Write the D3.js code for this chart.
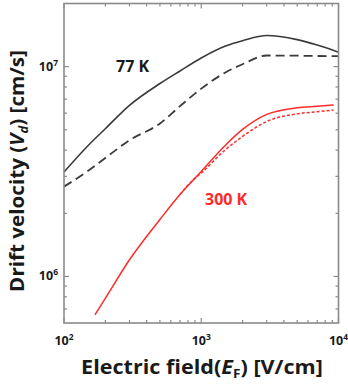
<!DOCTYPE html>
<html><head><meta charset="utf-8">
<script src="https://cdn.jsdelivr.net/npm/d3@7"></script>
<style>
html,body{margin:0;padding:0;background:#fff;}
svg{display:block;font-family:"Open Sans","Noto Sans",sans-serif;}
</style></head>
<body><div id="chart"></div>
<script>
// Data (electric field in V/cm, drift velocity in cm/s)
const field77 = [100, 150, 200, 300, 500, 700, 1000, 1500, 2000, 3000, 5000, 7000, 10000];
const solid77 = [3.145e6, 4.21e6, 5.06e6, 6.54e6, 8.31e6, 9.54e6, 1.10e7, 1.254e7, 1.330e7, 1.408e7, 1.345e7, 1.268e7, 1.172e7];
const dashed77 = [2.68e6, 3.19e6, 3.67e6, 4.46e6, 5.36e6, 6.48e6, 7.86e6, 9.38e6, 1.027e7, 1.13e7, 1.128e7, 1.124e7, 1.122e7];
const field300 = [168, 200, 300, 500, 700, 1000, 1500, 2000, 3000, 5000, 7000, 9200];
const solid300 = [6.56e5, 7.86e5, 1.201e6, 1.87e6, 2.46e6, 3.165e6, 4.22e6, 5.02e6, 5.92e6, 6.37e6, 6.47e6, 6.56e6];
const field300b = [700, 870, 1000, 1500, 2000, 3000, 5000, 7000, 9200];
const dotted300 = [2.46e6, 2.88e6, 3.11e6, 4.02e6, 4.65e6, 5.48e6, 5.96e6, 6.10e6, 6.21e6];
const xTickExps = [2, 3, 4];
const yTickExps = [6, 7];
const labels = ["77 K", "300 K"];

const W = 348, H = 386;
const m = {left: 64, right: 348 - 338.5, top: 3.5, bottom: 386 - 323};
const svg = d3.select("#chart").append("svg").attr("width", W).attr("height", H);
const x = d3.scaleLog().domain([100, 10000]).range([m.left, W - m.right]);
const y = d3.scaleLog().domain([6.0e5, 2.0e7]).range([H - m.bottom, m.top]);
const frame = "#8a8a8a", txt = "#1a1a1a", red = "#ff2a2a";

// ticks
const xMinor = [], yMinor = [];
for (let e = 2; e < 4; e++) for (let k = 2; k <= 9; k++) xMinor.push(k * Math.pow(10, e));
for (let e = 5; e < 8; e++) for (let k = 2; k <= 9; k++) { const v = k * Math.pow(10, e); if (v > 6.0e5 && v < 2.0e7) yMinor.push(v); }
const g = svg.append("g").attr("stroke", frame).attr("stroke-width", 1.2);
const x0 = x.range()[0], x1 = x.range()[1], y0 = y.range()[0], y1 = y.range()[1];
xMinor.forEach(v => {
  g.append("line").attr("x1", x(v)).attr("x2", x(v)).attr("y1", y0).attr("y2", y0 - 3);
  g.append("line").attr("x1", x(v)).attr("x2", x(v)).attr("y1", y1).attr("y2", y1 + 3);
});
xTickExps.forEach(e => {
  const v = Math.pow(10, e);
  g.append("line").attr("x1", x(v)).attr("x2", x(v)).attr("y1", y0).attr("y2", y0 - 5);
  g.append("line").attr("x1", x(v)).attr("x2", x(v)).attr("y1", y1).attr("y2", y1 + 5);
});
yMinor.forEach(v => {
  g.append("line").attr("x1", x0).attr("x2", x0 + 3).attr("y1", y(v)).attr("y2", y(v));
  g.append("line").attr("x1", x1).attr("x2", x1 - 3).attr("y1", y(v)).attr("y2", y(v));
});
yTickExps.forEach(e => {
  const v = Math.pow(10, e);
  g.append("line").attr("x1", x0).attr("x2", x0 + 5).attr("y1", y(v)).attr("y2", y(v));
  g.append("line").attr("x1", x1).attr("x2", x1 - 5).attr("y1", y(v)).attr("y2", y(v));
});

// curves
const line = d3.line().x(d => x(d[0])).y(d => y(d[1])).curve(d3.curveMonotoneX);
const zip = (a, b) => a.map((v, i) => [v, b[i]]);
svg.append("path").datum(zip(field77, solid77)).attr("d", line).attr("fill", "none").attr("stroke", "#3a3a3a").attr("stroke-width", 1.6);
svg.append("path").datum(zip(field77, dashed77)).attr("d", line).attr("fill", "none").attr("stroke", "#3a3a3a").attr("stroke-width", 1.8).attr("stroke-dasharray", "9,5");
svg.append("path").datum(zip(field300, solid300)).attr("d", line).attr("fill", "none").attr("stroke", red).attr("stroke-width", 1.5);
svg.append("path").datum(zip(field300b, dotted300)).attr("d", line).attr("fill", "none").attr("stroke", red).attr("stroke-width", 1.5).attr("stroke-dasharray", "3,2");

// frame
svg.append("rect").attr("x", x0).attr("y", y1).attr("width", x1 - x0).attr("height", y0 - y1)
  .attr("fill", "none").attr("stroke", frame).attr("stroke-width", 1.6);

// tick labels
xTickExps.forEach(e => {
  const t = svg.append("text").attr("x", x(Math.pow(10, e))).attr("y", 345).attr("text-anchor", "middle")
    .attr("font-size", 12.5).attr("font-weight", "bold").attr("fill", txt);
  t.append("tspan").text("10");
  t.append("tspan").attr("dy", -5).attr("font-size", 8.5).text(e);
});
yTickExps.forEach(e => {
  const t = svg.append("text").attr("x", 58).attr("y", y(Math.pow(10, e)) + 4).attr("text-anchor", "end")
    .attr("font-size", 12.5).attr("font-weight", "bold").attr("fill", txt);
  t.append("tspan").text("10");
  t.append("tspan").attr("dy", -5).attr("font-size", 8.5).text(e);
});

// annotations
svg.append("text").attr("x", 116).attr("y", 72).attr("font-size", 16).attr("font-weight", "bold").attr("fill", txt).text(labels[0]);
svg.append("text").attr("x", 205).attr("y", 205).attr("font-size", 16).attr("font-weight", "bold").attr("fill", red).text(labels[1]);

// axis titles (scaled horizontally to match the reference title lengths)
function fitText(sel, cx, cy, rot, targetLen) {
  const w = sel.node().getComputedTextLength();
  const s = targetLen / w;
  sel.attr("transform", `translate(${cx},${cy}) rotate(${rot}) scale(${s},1)`);
}
const xt = svg.append("text").attr("x", 0).attr("y", 0).attr("text-anchor", "middle")
  .attr("font-size", 19).attr("font-weight", "bold").attr("fill", txt);
xt.append("tspan").text("Electric field(");
xt.append("tspan").attr("font-style", "italic").text("E");
xt.append("tspan").attr("font-size", 12).attr("dy", 4).text("F");
xt.append("tspan").attr("dy", -4).text(") [V/cm]");
fitText(xt, 202, 374, 0, 242);

const yt = svg.append("text").attr("x", 0).attr("y", 0).attr("text-anchor", "middle")
  .attr("font-size", 19).attr("font-weight", "bold").attr("fill", txt);
yt.append("tspan").text("Drift velocity (");
yt.append("tspan").attr("font-style", "italic").text("V");
yt.append("tspan").attr("font-size", 12).attr("dy", 4).attr("font-style", "italic").text("d");
yt.append("tspan").attr("dy", -4).text(") [cm/s]");
fitText(yt, 24, 171, -90, 242);
</script></body></html>
